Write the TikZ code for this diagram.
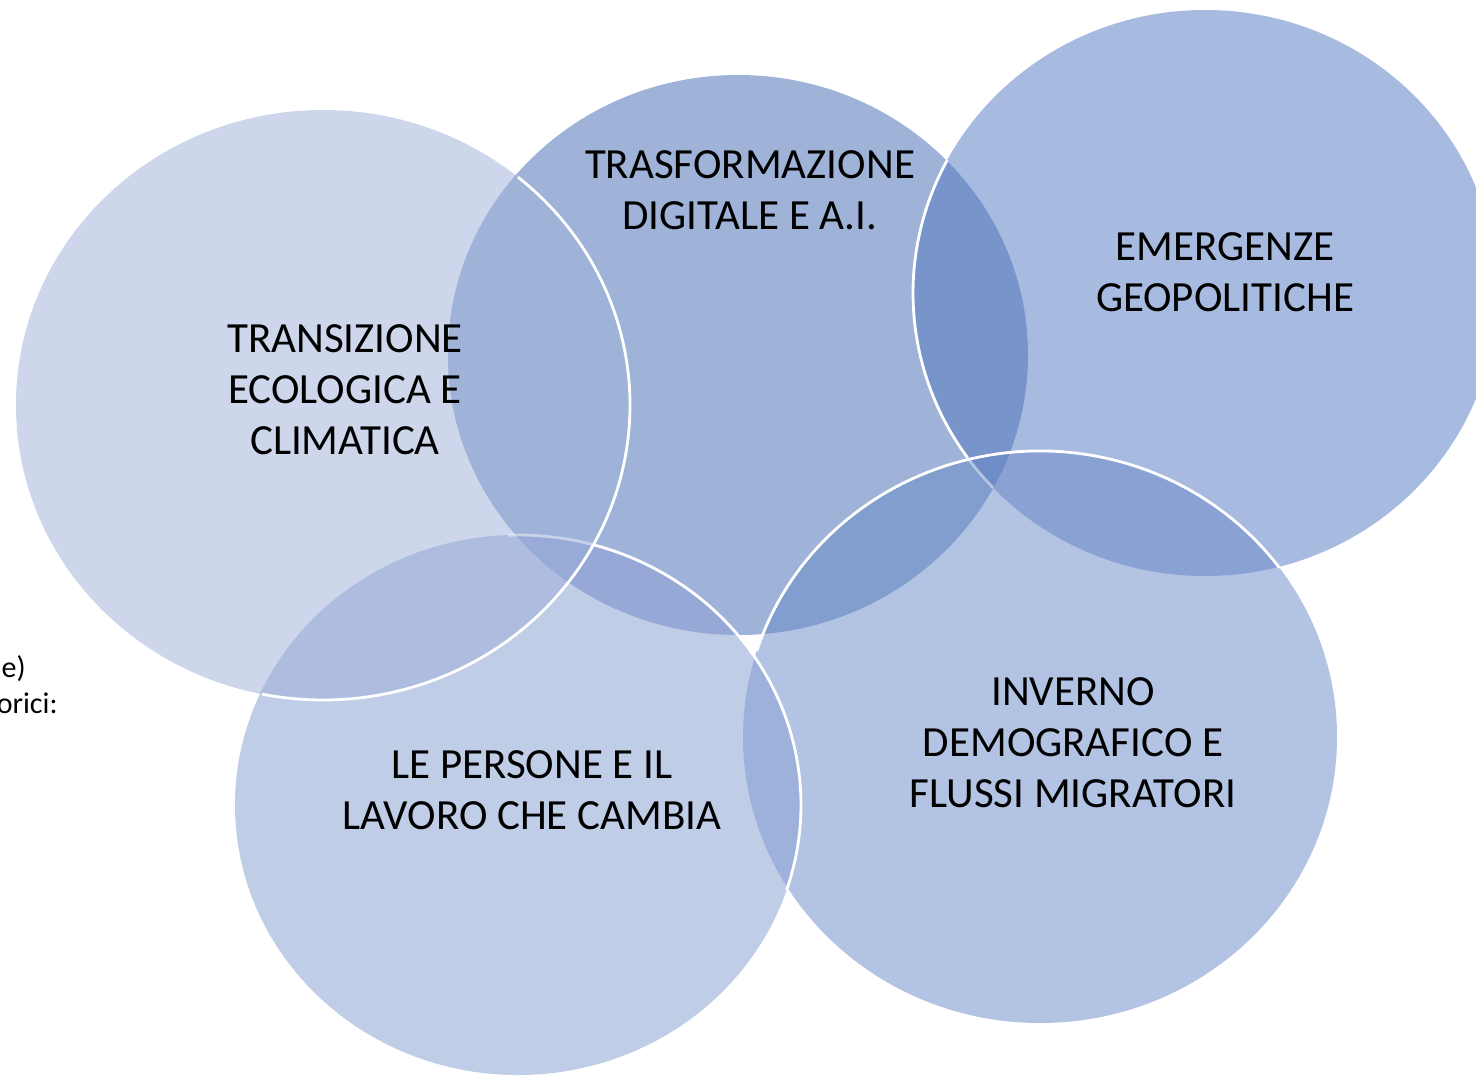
\documentclass[tikz,border=0pt]{standalone}
\usepackage{fontspec}
\setmainfont{Carlito}
\definecolor{cL}{HTML}{CDD6EA}
\definecolor{cD}{HTML}{9FB2D8}
\definecolor{cE}{HTML}{A7BBE1}
\definecolor{cI}{HTML}{B3C3E3}
\definecolor{cP}{HTML}{C0CDE7}
\definecolor{cLP}{HTML}{AEBCDF}
\definecolor{cDP}{HTML}{96A8D5}
\definecolor{cDE}{HTML}{7795CB}
\definecolor{cDI}{HTML}{829ECE}
\definecolor{cEI}{HTML}{89A1D3}
\definecolor{cPI}{HTML}{9EB1DA}
\definecolor{cDEI}{HTML}{6E8CC6}
\definecolor{cLDP}{HTML}{98AAD6}
\tikzset{
  lbl/.style={align=center, text=black, inner sep=0pt,
    font=\fontsize{21.5pt}{25.5pt}\selectfont},
  side/.style={text=black, inner sep=0pt,
    font=\fontsize{15pt}{18pt}\selectfont},
  rim/.style={draw=white, line width=1.4pt},
  faintrim/.style={draw=white, draw opacity=0.45, line width=1.4pt}
}
\begin{document}
\begin{tikzpicture}[x=0.5pt,y=-0.5pt]
\useasboundingbox (0,0) rectangle (1476,1077);
\clip (0,0) rectangle (1476,1077);
\def\pL{(323,405) ellipse [x radius=307, y radius=295]}
\def\pD{(738,355) ellipse [x radius=290, y radius=280]}
\def\pE{(1205,293) ellipse [x radius=292, y radius=283]}
\def\pI{(1040,737) ellipse [x radius=297, y radius=286]}
\def\pP{(518,805) ellipse [x radius=283, y radius=270]}
% single fills
\fill[cL] \pL;
\fill[cD] \pD;
\fill[cE] \pE;
\fill[cI] \pI;
\fill[cP] \pP;
% pairwise overlaps
\begin{scope}\clip \pL; \fill[cD] \pD; \end{scope}
\begin{scope}\clip \pL; \fill[cLP] \pP; \end{scope}
\begin{scope}\clip \pD; \fill[cDP] \pP; \end{scope}
\begin{scope}\clip \pD; \fill[cDE] \pE; \end{scope}
\begin{scope}\clip \pD; \fill[cDI] \pI; \end{scope}
\begin{scope}\clip \pE; \fill[cEI] \pI; \end{scope}
\begin{scope}\clip \pP; \fill[cPI] \pI; \end{scope}
% triple overlaps
\begin{scope}\clip \pL; \clip \pD; \fill[cLDP] \pP; \end{scope}
\begin{scope}\clip \pD; \clip \pE; \fill[cDEI] \pI; \end{scope}
% white rims
\draw[rim] (323,405) ++(-50.6:307 and 295) arc[start angle=-50.6, end angle=101.5, x radius=307, y radius=295];
\draw[faintrim] (518,805) ++(-92:283 and 270) arc[start angle=-92, end angle=-74.6, x radius=283, y radius=270];
\draw[rim] (518,805) ++(-74.6:283 and 270) arc[start angle=-74.6, end angle=18.3, x radius=283, y radius=270];
\draw[rim] (1205,293) ++(208:292 and 283) arc[start angle=208, end angle=144.4, x radius=292, y radius=283];
\draw[faintrim] (1205,293) ++(144.4:292 and 283) arc[start angle=144.4, end angle=136.5, x radius=292, y radius=283];
\draw[rim] (1040,737) ++(197.5:297 and 286) arc[start angle=197.5, end angle=323.7, x radius=297, y radius=286];
% labels
\node[lbl] (tD) at (750,190) {TRASFORMAZIONE\\DIGITALE E A.I.};
\node[lbl] (tE) at (1225,272) {EMERGENZE\\GEOPOLITICHE};
\node[lbl] (tL) at (345,390) {TRANSIZIONE\\ECOLOGICA E\\CLIMATICA};
\node[lbl] (tI) at (1073,743) {INVERNO\\DEMOGRAFICO E\\FLUSSI MIGRATORI};
\node[lbl] (tP) at (532,790) {LE PERSONE E IL\\LAVORO CHE CAMBIA};
\node[side, anchor=base east] (s1) at (26,677) {e)};
\node[side, anchor=base east] (s2) at (58,713) {orici:};
\end{tikzpicture}
\end{document}
